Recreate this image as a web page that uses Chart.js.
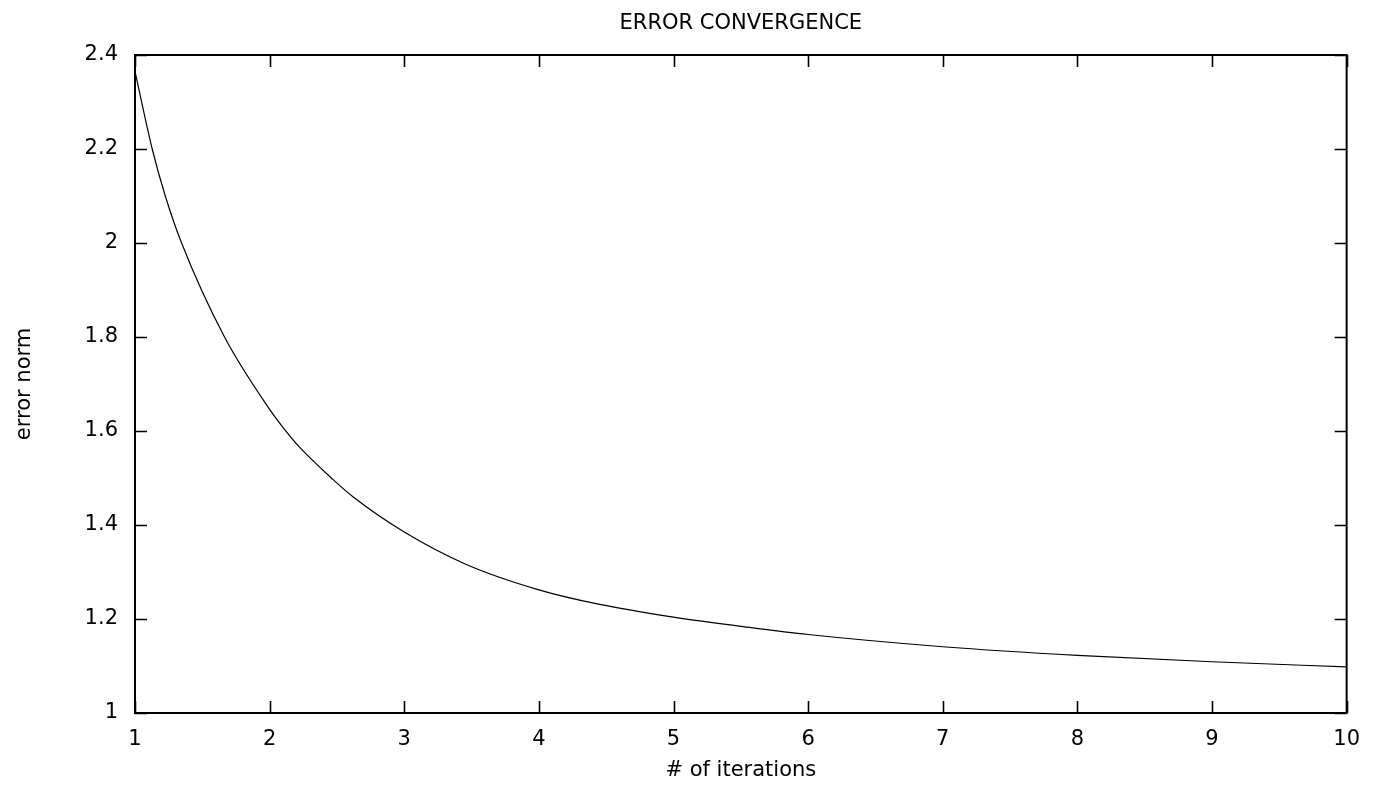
<!DOCTYPE html>
<html>
<head>
<meta charset="utf-8">
<script src="https://cdn.jsdelivr.net/npm/chart.js@4.4.1/dist/chart.umd.min.js"></script>
<style>
  html, body { margin: 0; padding: 0; background: #fff; }
  #wrap { width: 1374px; height: 785px; position: relative; }
</style>
</head>
<body>
<div id="wrap"><canvas id="c" width="1374" height="785"></canvas></div>
<script>
// ---- data ----
const iterations = [1.0, 1.128, 1.225, 1.346, 1.665, 2.0, 2.112, 2.224, 2.47, 2.619, 3.0, 3.461, 4.0, 4.452, 5.0, 5.567, 6.0, 7.0, 8.0, 9.0, 10.0];
const errorNorm  = [2.365, 2.2, 2.1, 2.0, 1.8, 1.646, 1.603, 1.565, 1.497, 1.46, 1.385, 1.316, 1.262, 1.231, 1.204, 1.182, 1.167, 1.141, 1.1225, 1.109, 1.098];
const xTicks = [1, 2, 3, 4, 5, 6, 7, 8, 9, 10];
const yTicks = [1, 1.2, 1.4, 1.6, 1.8, 2, 2.2, 2.4];
const titleText = 'ERROR CONVERGENCE';
const xLabel = '# of iterations';
const yLabel = 'error norm';

const points = iterations.map((x, i) => ({ x: x, y: errorNorm[i] }));
const FONT = 'DejaVu Sans';
const FS = 21;

// gnuplot-style frame with inward mirrored ticks, drawn from the library scales
const framePlugin = {
  id: 'frame',
  afterDatasetsDraw(chart) {
    const { ctx, chartArea: a, scales } = chart;
    const L = 12;
    ctx.save();
    ctx.strokeStyle = '#000';
    ctx.lineWidth = 1.6;
    ctx.beginPath();
    scales.x.ticks.forEach(t => {
      const px = Math.round(scales.x.getPixelForValue(t.value)) + 0.5;
      ctx.moveTo(px, a.bottom); ctx.lineTo(px, a.bottom - L);
      ctx.moveTo(px, a.top); ctx.lineTo(px, a.top + L);
    });
    scales.y.ticks.forEach(t => {
      const py = Math.round(scales.y.getPixelForValue(t.value)) + 0.5;
      ctx.moveTo(a.left, py); ctx.lineTo(a.left + L, py);
      ctx.moveTo(a.right, py); ctx.lineTo(a.right - L, py);
    });
    ctx.stroke();
    ctx.lineWidth = 2;
    ctx.strokeRect(a.left, a.top, a.right - a.left, a.bottom - a.top);
    ctx.restore();
  }
};

new Chart(document.getElementById('c'), {
  type: 'line',
  data: {
    datasets: [{
      label: yLabel,
      data: points,
      borderColor: '#000',
      borderWidth: 1.2,
      pointRadius: 0,
      fill: false,
      cubicInterpolationMode: 'monotone'
    }]
  },
  options: {
    responsive: false,
    animation: false,
    layout: { padding: { left: 0, right: 27, top: 0, bottom: 0 } },
    plugins: {
      legend: { display: false },
      tooltip: { enabled: false },
      title: { display: false }
    },
    scales: {
      x: {
        type: 'linear',
        min: 1, max: 10,
        afterBuildTicks: s => { s.ticks = xTicks.map(v => ({ value: v })); },
        afterFit: s => { s.height = 72; },
        grid: { display: false, drawTicks: false },
        border: { display: false },
        ticks: {
          color: '#000',
          padding: 14,
          maxRotation: 0,
          font: { family: FONT, size: FS },
          callback: v => String(v)
        },
        title: {
          display: true,
          text: xLabel,
          color: '#000',
          font: { family: FONT, size: FS },
          padding: { top: 0, bottom: 2 }
        }
      },
      x2: {
        type: 'linear',
        position: 'top',
        min: 1, max: 10,
        afterFit: s => { s.height = 55; },
        grid: { display: false, drawTicks: false },
        border: { display: false },
        ticks: { display: false },
        title: {
          display: true,
          text: titleText,
          color: '#000',
          font: { family: FONT, size: FS },
          padding: { top: 11, bottom: 0 }
        }
      },
      y: {
        type: 'linear',
        min: 1, max: 2.4,
        afterBuildTicks: s => { s.ticks = yTicks.map(v => ({ value: v })); },
        afterFit: s => { s.width = 135; },
        grid: { display: false, drawTicks: false },
        border: { display: false },
        ticks: {
          color: '#000',
          padding: 17,
          font: { family: FONT, size: FS },
          callback: v => String(+Number(v).toFixed(1))
        },
        title: {
          display: true,
          text: yLabel,
          color: '#000',
          font: { family: FONT, size: FS },
          padding: { top: 12, bottom: 0 }
        }
      }
    }
  },
  plugins: [framePlugin]
});
</script>
</body>
</html>
